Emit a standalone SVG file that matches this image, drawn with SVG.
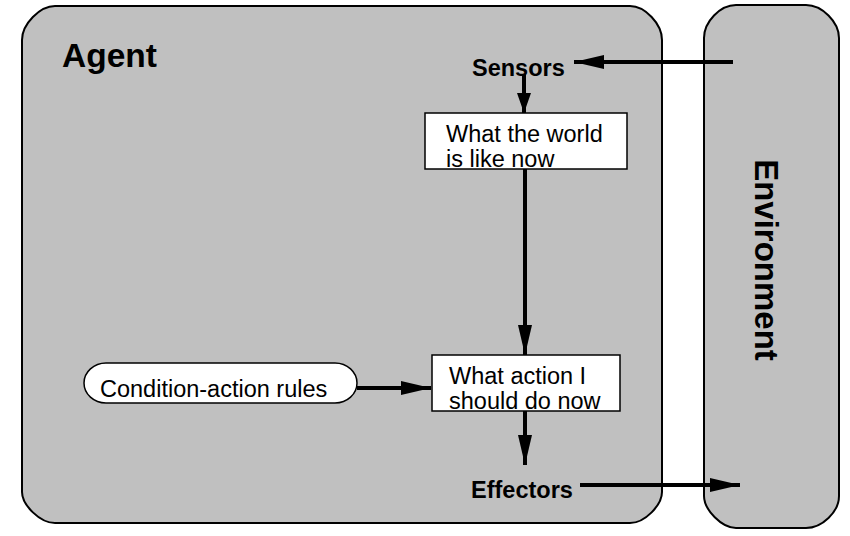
<svg xmlns="http://www.w3.org/2000/svg" width="850" height="536" viewBox="0 0 850 536">
<defs>
<marker id="ah" viewBox="0 0 30 14" refX="30" refY="7" markerWidth="30" markerHeight="14" markerUnits="userSpaceOnUse" orient="auto">
<path d="M0,0 L30,7 L0,14 z" fill="#000"/>
</marker>
<marker id="ahs" viewBox="0 0 20 14" refX="20" refY="7" markerWidth="20" markerHeight="14" markerUnits="userSpaceOnUse" orient="auto">
<path d="M0,0 L20,7 L0,14 z" fill="#000"/>
</marker>
<style>
.panel{fill:#c0c0c0;stroke:#000;stroke-width:2}
.box{fill:#fff;stroke:#000;stroke-width:1.5}
.t{font-family:"Liberation Sans",Arial,sans-serif;fill:#000}
.lbl{font-size:23.5px}
.b{font-weight:bold}
.c{stroke:#000;stroke-width:4;fill:none}
</style>
</defs>
<rect width="850" height="536" fill="#fff"/>
<g id="agent">
<path class="panel" d="M55,6 H630 C645,6 662,24 662,40 V492 C662,505 645,523 630,523 H55 C40,523 22,505 22,492 V40 C22,24 40,6 55,6 Z"/>
<text class="t b" x="62" y="67" font-size="33.5">Agent</text>
</g>
<g id="environment">
<path class="panel" d="M736,5 H806 C822,5 839,22 839,38 V496 C839,512 822,528 806,528 H736 C722,528 704,510 704,496 V38 C704,22 720,5 736,5 Z"/>
<text class="t b" transform="translate(755,260) rotate(90)" text-anchor="middle" font-size="33">Environment</text>
</g>
<g id="sensors">
<text class="t b" x="472" y="76" font-size="23.5">Sensors</text>
</g>
<g id="world">
<rect class="box" x="425" y="113" width="202" height="56"/>
<text class="t lbl" x="446" y="142">What the world</text>
<text class="t lbl" x="446" y="167">is like now</text>
</g>
<g id="action">
<rect class="box" x="432" y="355" width="188" height="56"/>
<text class="t lbl" x="449" y="384">What action I</text>
<text class="t lbl" x="449" y="409">should do now</text>
</g>
<g id="rules">
<rect class="box" x="84" y="363" width="273" height="40" rx="22" ry="20"/>
<text class="t lbl" x="100" y="397">Condition-action rules</text>
</g>
<g id="effectors">
<text class="t b" x="471" y="498" font-size="23.5">Effectors</text>
</g>
<g id="connectors">
<line class="c" x1="733" y1="62" x2="574" y2="62" marker-end="url(#ah)"/>
<line class="c" x1="524" y1="74" x2="524" y2="113" marker-end="url(#ahs)"/>
<line class="c" x1="525" y1="169" x2="525" y2="355" marker-end="url(#ah)"/>
<line class="c" x1="357" y1="388" x2="431" y2="388" marker-end="url(#ah)"/>
<line class="c" x1="525" y1="411" x2="525" y2="465" marker-end="url(#ah)"/>
<line class="c" x1="580" y1="485" x2="740" y2="485" marker-end="url(#ah)"/>
</g>
</svg>
